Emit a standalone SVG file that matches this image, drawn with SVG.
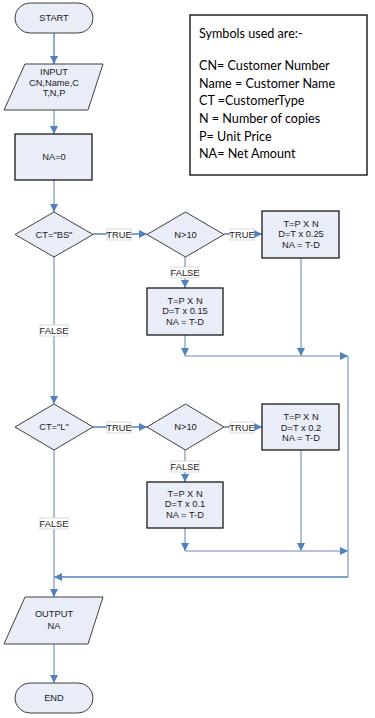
<svg xmlns="http://www.w3.org/2000/svg" width="375" height="718" viewBox="0 0 375 718">
<defs>
<marker id="ah" markerUnits="userSpaceOnUse" markerWidth="9" markerHeight="9" refX="8" refY="4" orient="auto">
<path d="M0,0 L8,4 L0,8 z" fill="#4F81BD"/>
</marker>
<style>
.shape{fill:#E8EDF7;stroke:#404040;stroke-width:1}
.box{fill:#E8EDF7;stroke:#1a1a1a;stroke-width:1.3}
.t{font-family:"Liberation Sans",Arial,sans-serif;font-size:9.3px;fill:#1a1a1a;text-anchor:middle}
.c1{fill:none;stroke:#4F81BD;stroke-width:1.3}
.c2{fill:none;stroke:#98AFD2;stroke-width:1.6}
.lb{fill:#ffffff;stroke:#D0D0D0;stroke-width:0.8}
.lg{font-family:Lato,"Open Sans",sans-serif;font-size:12.6px;fill:#000}
</style>
</defs>
<rect width="375" height="718" fill="#ffffff"/>

<g id="connectors">
<path class="c1" d="M54,33 V64" marker-end="url(#ah)"/>
<path class="c2" d="M54,110 V134" marker-end="url(#ah)"/>
<path class="c2" d="M54,180 V212" marker-end="url(#ah)"/>
<path class="c1" d="M93,234 H147" marker-end="url(#ah)"/>
<path class="c1" d="M224,234 H262" marker-end="url(#ah)"/>
<path class="c2" d="M185,257 V288" marker-end="url(#ah)"/>
<path class="c2" d="M185,335 V356" marker-end="url(#ah)"/>
<path class="c2" d="M301,258 V356" marker-end="url(#ah)"/>
<path class="c2" d="M185,356 H348" marker-end="url(#ah)"/>
<path class="c2" d="M348,356 V577"/>
<path class="c1" d="M348,577 H54" marker-end="url(#ah)"/>
<path class="c2" d="M54,257 V404" marker-end="url(#ah)"/>
<path class="c1" d="M93,427 H147" marker-end="url(#ah)"/>
<path class="c1" d="M224,427 H262" marker-end="url(#ah)"/>
<path class="c2" d="M185,450 V482" marker-end="url(#ah)"/>
<path class="c2" d="M185,528 V551" marker-end="url(#ah)"/>
<path class="c2" d="M301,450 V551" marker-end="url(#ah)"/>
<path class="c2" d="M185,551 H348" marker-end="url(#ah)"/>
<path class="c2" d="M54,450 V597" marker-end="url(#ah)"/>
<path class="c2" d="M54,644 V683" marker-end="url(#ah)"/>
<g id="labels">
<rect class="lb" x="107" y="229" width="24" height="11"/><text class="t" x="119" y="237.5">TRUE</text>
<rect class="lb" x="230" y="229" width="24" height="11"/><text class="t" x="242" y="237.5">TRUE</text>
<rect class="lb" x="171" y="267" width="28" height="11"/><text class="t" x="185" y="275.5">FALSE</text>
<rect class="lb" x="40" y="325" width="28" height="11"/><text class="t" x="54" y="333.5">FALSE</text>
<rect class="lb" x="107" y="422" width="24" height="11"/><text class="t" x="119" y="430.5">TRUE</text>
<rect class="lb" x="230" y="422" width="24" height="11"/><text class="t" x="242" y="430.5">TRUE</text>
<rect class="lb" x="171" y="461" width="28" height="11"/><text class="t" x="185" y="469.5">FALSE</text>
<rect class="lb" x="40" y="518" width="28" height="11"/><text class="t" x="54" y="526.5">FALSE</text>
</g>
</g>

<g id="start"><rect class="shape" x="15" y="3" width="78" height="30" rx="15"/><text class="t" x="54" y="21">START</text></g>
<g id="input"><path class="shape" d="M25,64 H103 L88,110 H4 Z"/>
<text class="t" x="54" y="74.5">INPUT</text><text class="t" x="54" y="85.5">CN,Name,C</text><text class="t" x="54" y="95.5">T,N,P</text></g>
<g id="na0"><rect class="box" x="15" y="134" width="77" height="46"/><text class="t" x="54" y="160">NA=0</text></g>
<g id="ctbs"><path class="shape" d="M54,212 L93,234.5 L54,257 L15,234.5 Z"/><text class="t" x="54" y="237.5">CT="BS"</text></g>
<g id="n10a"><path class="shape" d="M185.5,212 L224,234.5 L185.5,257 L147,234.5 Z"/><text class="t" x="185.5" y="237.5">N&gt;10</text></g>
<g id="calc1"><rect class="box" x="262" y="211" width="77" height="47"/>
<text class="t" x="301" y="226.5">T=P X N</text><text class="t" x="301" y="237">D=T x 0.25</text><text class="t" x="301" y="247.5">NA = T-D</text></g>
<g id="calc2"><rect class="box" x="147" y="288" width="76" height="47"/>
<text class="t" x="185" y="303.5">T=P X N</text><text class="t" x="185" y="314">D=T x 0.15</text><text class="t" x="185" y="324.5">NA = T-D</text></g>
<g id="ctl"><path class="shape" d="M54,404 L93,427 L54,450 L15,427 Z"/><text class="t" x="54" y="430">CT="L"</text></g>
<g id="n10b"><path class="shape" d="M185.5,404 L224,427 L185.5,450 L147,427 Z"/><text class="t" x="185.5" y="430">N&gt;10</text></g>
<g id="calc3"><rect class="box" x="262" y="404" width="77" height="46"/>
<text class="t" x="301" y="420">T=P X N</text><text class="t" x="301" y="430.5">D=T x 0.2</text><text class="t" x="301" y="441">NA = T-D</text></g>
<g id="calc4"><rect class="box" x="147" y="482" width="76" height="46"/>
<text class="t" x="185" y="496.5">T=P X N</text><text class="t" x="185" y="507">D=T x 0.1</text><text class="t" x="185" y="517.5">NA = T-D</text></g>
<g id="output"><path class="shape" d="M25,597 H103 L88,644 H4 Z"/>
<text class="t" x="54" y="617">OUTPUT</text><text class="t" x="54" y="628.5">NA</text></g>
<g id="end"><rect class="shape" x="15" y="683" width="78" height="30" rx="15"/><text class="t" x="54" y="701">END</text></g>

<g id="legend"><rect x="190" y="15" width="177" height="160" fill="#ffffff" stroke="#000" stroke-width="1.3"/>
<text class="lg" x="199" y="38">Symbols used are:-</text>
<text class="lg" x="199" y="70">CN= Customer Number</text>
<text class="lg" x="199" y="87.5">Name = Customer Name</text>
<text class="lg" x="199" y="105">CT =CustomerType</text>
<text class="lg" x="199" y="123">N = Number of copies</text>
<text class="lg" x="199" y="140.5">P= Unit Price</text>
<text class="lg" x="199" y="158">NA= Net Amount</text>
</g>
</svg>
